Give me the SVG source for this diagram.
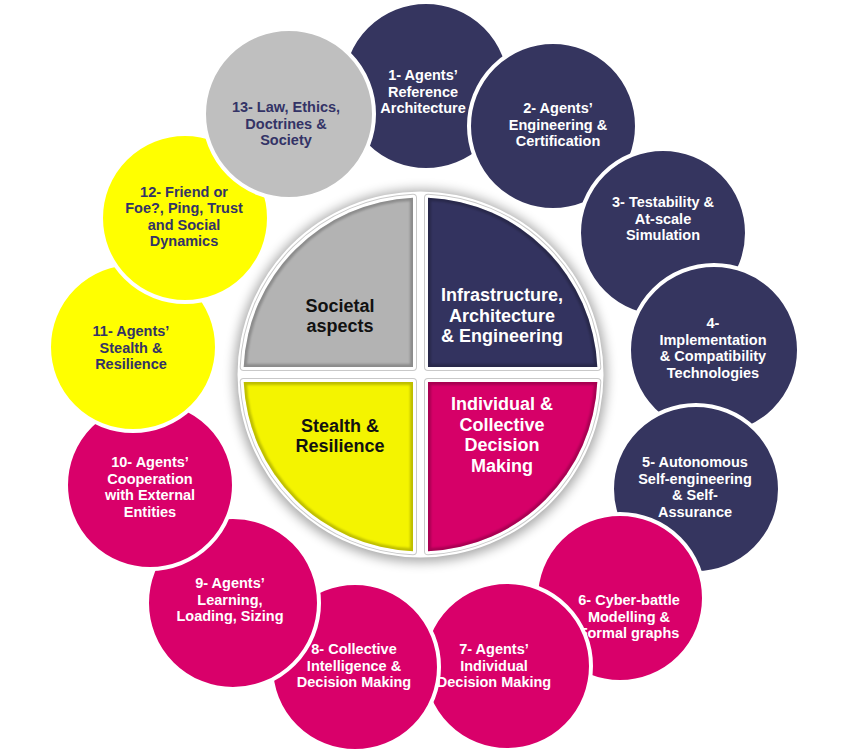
<svg xmlns="http://www.w3.org/2000/svg" width="847" height="756" viewBox="0 0 847 756">
<defs>
<style>
.c{stroke:#fff;stroke-width:4}
.nv{fill:#35355F}
.pk{fill:#D9006A}
.yl{fill:#FFFF00}
.gr{fill:#BFBFBF}
.t{font-family:"Liberation Sans",Arial,sans-serif;font-weight:bold;font-size:14.5px;text-anchor:middle}
.q{font-size:18px}
.w{fill:#fff}
.d{fill:#333366}
.k{fill:#111}
.qo{fill:none;stroke:#c9c9c9;stroke-width:8;stroke-linejoin:round}
.qw{fill:none;stroke:#fff;stroke-width:6;stroke-linejoin:round}
.bv{fill:none;stroke:#000;stroke-opacity:.22;stroke-width:6;stroke-linejoin:round}
</style>
<filter id="sh" x="-20%" y="-20%" width="140%" height="140%"><feGaussianBlur stdDeviation="6"/></filter>
<filter id="bl" x="-5%" y="-5%" width="110%" height="110%"><feGaussianBlur stdDeviation="1.2"/></filter>
<path id="pTL" d="M413,367 L243.7,367 A177,177 0 0 1 413,197.7 Z"/>
<path id="pTR" d="M428,367 L428,197.7 A177,177 0 0 1 597.3,367 Z"/>
<path id="pBL" d="M413,382 L413,551.3 A177,177 0 0 1 243.7,382 Z"/>
<path id="pBR" d="M428,382 L597.3,382 A177,177 0 0 1 428,551.3 Z"/>
<clipPath id="cTL"><use href="#pTL"/></clipPath>
<clipPath id="cTR"><use href="#pTR"/></clipPath>
<clipPath id="cBL"><use href="#pBL"/></clipPath>
<clipPath id="cBR"><use href="#pBR"/></clipPath>
</defs>
<rect width="847" height="756" fill="#fff"/>
<g id="ring">
<g id="n1"><circle class="c nv" cx="426" cy="86" r="84"/><text class="t w"><tspan x="423" y="80">1- Agents’</tspan><tspan x="423" y="96.5">Reference</tspan><tspan x="423" y="113">Architecture</tspan></text></g>
<g id="n2"><circle class="c nv" cx="553" cy="126" r="84"/><text class="t w"><tspan x="558" y="113">2- Agents’</tspan><tspan x="558" y="129.5">Engineering &amp;</tspan><tspan x="558" y="146">Certification</tspan></text></g>
<g id="n3"><circle class="c nv" cx="663" cy="233" r="84"/><text class="t w"><tspan x="663" y="207">3- Testability &amp;</tspan><tspan x="663" y="223.5">At-scale</tspan><tspan x="663" y="240">Simulation</tspan></text></g>
<g id="n4"><circle class="c nv" cx="714" cy="350" r="85"/><text class="t w"><tspan x="713" y="328">4-</tspan><tspan x="713" y="344.5">Implementation</tspan><tspan x="713" y="361">&amp; Compatibility</tspan><tspan x="713" y="377.5">Technologies</tspan></text></g>
<g id="n5"><circle class="c nv" cx="696" cy="489" r="84"/><text class="t w"><tspan x="695" y="467">5- Autonomous</tspan><tspan x="695" y="483.5">Self-engineering</tspan><tspan x="695" y="500">&amp; Self-</tspan><tspan x="695" y="516.5">Assurance</tspan></text></g>
<g id="n6"><circle class="c pk" cx="620" cy="598" r="84"/><text class="t w"><tspan x="629" y="605">6- Cyber-battle</tspan><tspan x="629" y="621.5">Modelling &amp;</tspan><tspan x="629" y="638">Formal graphs</tspan></text></g>
<g id="n7"><circle class="c pk" cx="507" cy="666" r="84"/><text class="t w"><tspan x="494" y="654">7- Agents’</tspan><tspan x="494" y="670.5">Individual</tspan><tspan x="494" y="687">Decision Making</tspan></text></g>
<g id="n8"><circle class="c pk" cx="355" cy="667" r="84"/><text class="t w"><tspan x="354" y="654">8- Collective</tspan><tspan x="354" y="670.5">Intelligence &amp;</tspan><tspan x="354" y="687">Decision Making</tspan></text></g>
<g id="n9"><circle class="c pk" cx="233" cy="603" r="86"/><text class="t w"><tspan x="230" y="588">9- Agents’</tspan><tspan x="230" y="604.5">Learning,</tspan><tspan x="230" y="621">Loading, Sizing</tspan></text></g>
<g id="n10"><circle class="c pk" cx="150" cy="485" r="84"/><text class="t w"><tspan x="150" y="467">10- Agents’</tspan><tspan x="150" y="483.5">Cooperation</tspan><tspan x="150" y="500">with External</tspan><tspan x="150" y="516.5">Entities</tspan></text></g>
<g id="n11"><circle class="c yl" cx="133" cy="347" r="84"/><text class="t d"><tspan x="131" y="336">11- Agents’</tspan><tspan x="131" y="352.5">Stealth &amp;</tspan><tspan x="131" y="369">Resilience</tspan></text></g>
<g id="n12"><circle class="c yl" cx="185" cy="218" r="84"/><text class="t d"><tspan x="184" y="196.5">12- Friend or</tspan><tspan x="184" y="213">Foe?, Ping, Trust</tspan><tspan x="184" y="229.5">and Social</tspan><tspan x="184" y="246">Dynamics</tspan></text></g>
<g id="n13"><circle class="c gr" cx="289" cy="114" r="85"/><text class="t d"><tspan x="286" y="112">13- Law, Ethics,</tspan><tspan x="286" y="128.5">Doctrines &amp;</tspan><tspan x="286" y="145">Society</tspan></text></g>
</g>
<g id="hub">
<circle cx="420.5" cy="376" r="186" fill="#000" opacity=".35" filter="url(#sh)"/>
<circle cx="420.5" cy="374.5" r="183" fill="#fff"/>
<g id="qTL"><use href="#pTL" class="qo"/><use href="#pTL" class="qw"/><use href="#pTL" fill="#B3B3B3"/><g clip-path="url(#cTL)"><use href="#pTL" class="bv" filter="url(#bl)"/></g><text class="t q k"><tspan x="340" y="311.5">Societal</tspan><tspan x="340" y="331.5">aspects</tspan></text></g>
<g id="qTR"><use href="#pTR" class="qo"/><use href="#pTR" class="qw"/><use href="#pTR" fill="#33335F"/><g clip-path="url(#cTR)"><use href="#pTR" class="bv" filter="url(#bl)"/></g><text class="t q w"><tspan x="502" y="301">Infrastructure,</tspan><tspan x="502" y="321.5">Architecture</tspan><tspan x="502" y="342">&amp; Engineering</tspan></text></g>
<g id="qBL"><use href="#pBL" class="qo"/><use href="#pBL" class="qw"/><use href="#pBL" fill="#F4F400"/><g clip-path="url(#cBL)"><use href="#pBL" class="bv" filter="url(#bl)"/></g><text class="t q k"><tspan x="340" y="431.5">Stealth &amp;</tspan><tspan x="340" y="451.5">Resilience</tspan></text></g>
<g id="qBR"><use href="#pBR" class="qo"/><use href="#pBR" class="qw"/><use href="#pBR" fill="#D60068"/><g clip-path="url(#cBR)"><use href="#pBR" class="bv" filter="url(#bl)"/></g><text class="t q w"><tspan x="502" y="410">Individual &amp;</tspan><tspan x="502" y="430.5">Collective</tspan><tspan x="502" y="451">Decision</tspan><tspan x="502" y="471.5">Making</tspan></text></g>
</g>
</svg>
